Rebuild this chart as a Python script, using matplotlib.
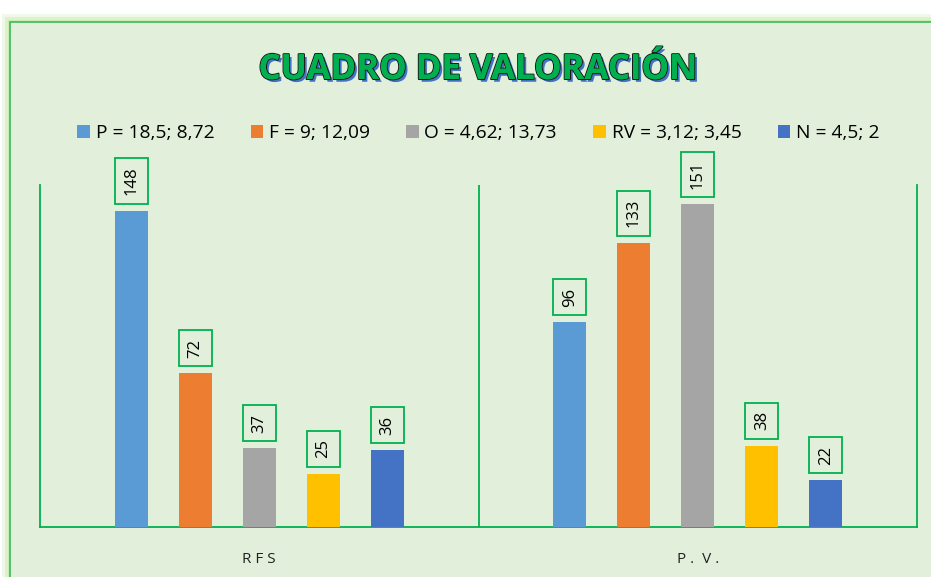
import matplotlib.pyplot as plt
import matplotlib.patheffects as pe
from matplotlib.patches import Rectangle
import numpy as np

plt.rcParams['font.family'] = ['Open Sans', 'DejaVu Sans']

categories = ["R F S", "P .  V ."]
series = ["P = 18,5; 8,72", "F = 9; 12,09", "O = 4,62; 13,73", "RV = 3,12; 3,45", "N = 4,5; 2"]
values = {
    "P = 18,5; 8,72": [148, 96],
    "F = 9; 12,09": [72, 133],
    "O = 4,62; 13,73": [37, 151],
    "RV = 3,12; 3,45": [25, 38],
    "N = 4,5; 2": [36, 22],
}
colors = ["#5B9BD5", "#ED7D31", "#A5A5A5", "#FFC000", "#4472C4"]
green = "#00B050"

W, H = 931, 577
fig = plt.figure(figsize=(W / 100, H / 100), dpi=100)
fig.patch.set_facecolor("white")

# outer glow and panel
for i, a in enumerate([0.25, 0.45, 0.7]):
    d = 8 - i * 3
    fig.patches.append(Rectangle(((10 - d) / W, 0), 1, (H - 22 + d) / H,
                                 transform=fig.transFigure, facecolor="#C6E9A8",
                                 edgecolor="none", alpha=a, zorder=0))
fig.patches.append(Rectangle((10 / W, -0.01), 1, (H - 22) / H + 0.01,
                             transform=fig.transFigure, facecolor="#E2EFDA",
                             edgecolor="#3DBB5A", linewidth=1.2, zorder=1))

ax = fig.add_axes([40 / W, 50 / H, 877 / W, 342 / H])
ax.set_facecolor("none")
ax.set_zorder(2)

x = np.arange(len(categories))
step = 0.146
bw = 0.076
for i, (s, c) in enumerate(zip(series, colors)):
    pos = x + (i - 2) * step
    bars = ax.bar(pos, values[s], width=bw, color=c, label=s, zorder=3)
    for b, v in zip(bars, values[s]):
        ax.annotate(str(v), (b.get_x() + b.get_width() / 2, v),
                    xytext=(0, 11), textcoords="offset points",
                    rotation=90, ha="center", va="bottom", fontsize=12,
                    bbox=dict(boxstyle="square,pad=0.5", facecolor="none",
                              edgecolor=green, linewidth=1.3))

ax.set_xlim(-0.5, 1.5)
ax.set_ylim(0, 160)
ax.set_yticks([])
ax.set_xticks(x)
ax.set_xticklabels(categories, fontsize=11, color="#222222")
ax.tick_params(axis="x", length=0, pad=18)
for sp in ["left", "right", "bottom"]:
    ax.spines[sp].set_color(green)
    ax.spines[sp].set_linewidth(1.3)
ax.spines["top"].set_visible(False)
ax.axvline(0.5, color=green, linewidth=1.3)

ax.legend(loc="center", bbox_to_anchor=(0.5, 1 + 52 / 342), ncol=5, frameon=False,
          fontsize=13.8, handlelength=0.65, handleheight=0.65, columnspacing=1.9,
          handletextpad=0.3)

fig.text(478 / W, 1 - 70 / H, "CUADRO DE VALORACIÓN", ha="center", va="center",
         fontsize=25, fontweight="bold", color=green,
         path_effects=[pe.withSimplePatchShadow(offset=(2, -2), shadow_rgbFace="#4472C4", alpha=1),
                       pe.withStroke(linewidth=1.5, foreground="#1a1a1a"),
                       pe.Normal()])

fig.savefig("out.png", dpi=100)
